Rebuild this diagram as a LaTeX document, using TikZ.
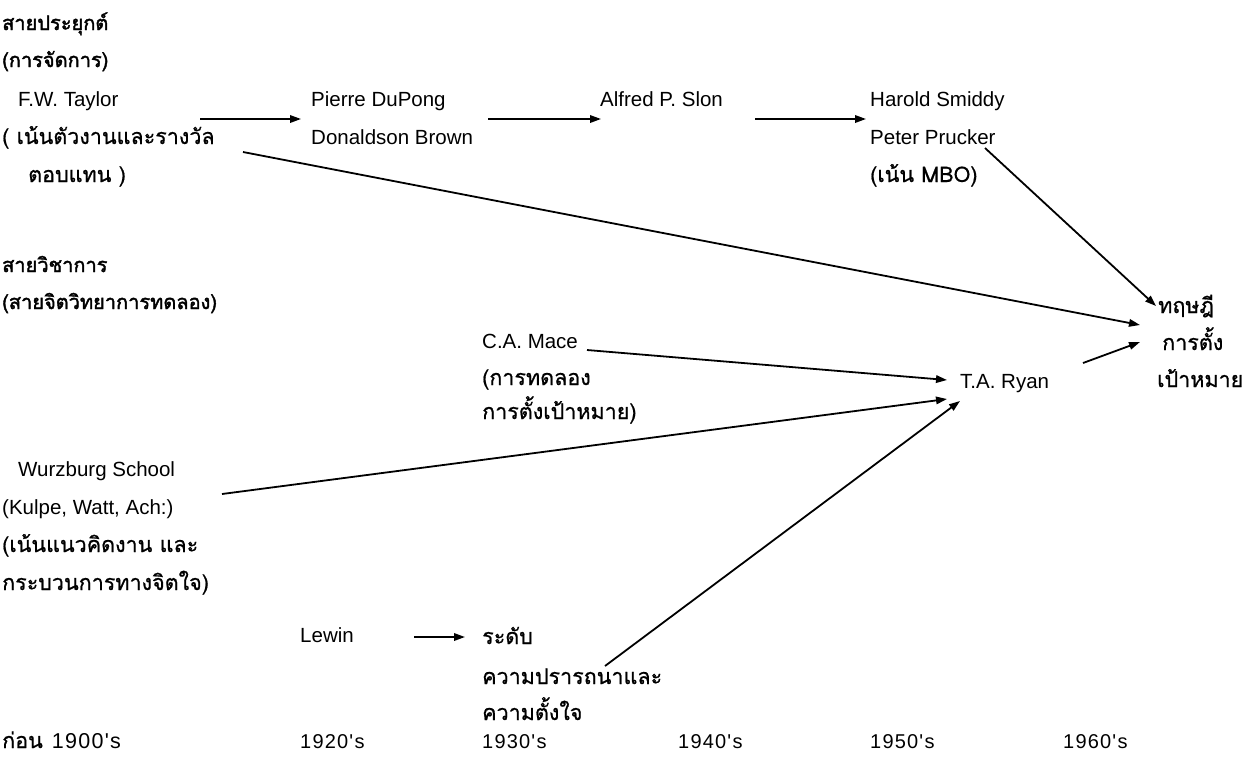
\documentclass[tikz,border=0pt]{standalone}
\usepackage{fontspec}
\setmainfont{Liberation Sans}
\newfontfamily\thai[Script=Thai,FakeBold=0.8]{Loma}
\newfontfamily\thaihead[Script=Thai,FakeBold=2]{Loma}
\newfontfamily\yearfont[LetterSpace=6]{Liberation Sans}
\usetikzlibrary{arrows.meta}
\begin{document}
\begin{tikzpicture}[x=1pt,y=-1pt,
  lbl/.style={anchor=base west,inner sep=0pt,font=\fontsize{20.5}{22}\selectfont},
  th/.style={anchor=base west,inner sep=0pt,font=\fontsize{21.5}{22}\selectfont\thai},
  thb/.style={anchor=base west,inner sep=0pt,font=\fontsize{20}{22}\selectfont\thaihead},
  yr/.style={anchor=base west,inner sep=0pt,font=\fontsize{20}{22}\selectfont\yearfont},
  arr/.style={-{Triangle[length=11pt,width=7.5pt]},line width=1.8pt}]
\useasboundingbox (0,0) rectangle (1252,756);

% applied management line
\node[thb] (appl)  at (2,30)  {สายประยุกต์};
\node[thb] (appl2) at (2,67)  {(การจัดการ)};
\node[lbl] (taylor)  at (18,106) {F.W. Taylor};
\node[th]  (taylor2) at (2,144)  {( เน้นตัวงานและรางวัล};
\node[th]  (taylor3) at (28,182) {ตอบแทน )};
\node[lbl] (pierre) at (311,106) {Pierre DuPong};
\node[lbl] (brown)  at (311,144) {Donaldson Brown};
\node[lbl] (sloan)  at (600,106) {Alfred P. Slon};
\node[lbl] (smiddy) at (870,106) {Harold Smiddy};
\node[lbl] (drucker) at (870,144) {Peter Prucker};
\node[th]  (mbo)    at (870,182) {(เน้น MBO)};

% academic line
\node[thb] (acad)  at (2,272) {สายวิชาการ};
\node[thb] (acad2) at (2,309) {(สายจิตวิทยาการทดลอง)};
\node[lbl] (mace)  at (482,348) {C.A. Mace};
\node[th]  (mace2) at (482,385) {(การทดลอง};
\node[th]  (mace3) at (482,419) {การตั้งเป้าหมาย)};
\node[lbl] (ryan)  at (960,388) {T.A. Ryan};
\node[lbl] (wurz)  at (18,476) {Wurzburg School};
\node[lbl] (wurz2) at (2,514)  {(Kulpe, Watt, Ach:)};
\node[th]  (wurz3) at (2,552)  {(เน้นแนวคิดงาน และ};
\node[th]  (wurz4) at (2,590)  {กระบวนการทางจิตใจ)};
\node[lbl] (lewin) at (300,642) {Lewin};
\node[th]  (level)  at (482,644) {ระดับ};
\node[th]  (level2) at (482,684) {ความปรารถนาและ};
\node[th]  (level3) at (482,720) {ความตั้งใจ};

% goal-setting theory
\node[th] (gst)  at (1158,313) {ทฤษฎี};
\node[th] (gst2) at (1162,350) {การตั้ง};
\node[th] (gst3) at (1157,387) {เป้าหมาย};

% time axis
\node[th] (d0) at (2,748)    {ก่อน\hspace{9pt}\yearfont 1900's};
\node[yr] (d1) at (300,748)  {1920's};
\node[yr] (d2) at (482,748)  {1930's};
\node[yr] (d3) at (678,748)  {1940's};
\node[yr] (d4) at (870,748)  {1950's};
\node[yr] (d5) at (1063,748) {1960's};

% connector end points
\coordinate (tayA) at (200,119);  \coordinate (pieA) at (301,119);
\coordinate (broA) at (488,119);  \coordinate (sloA) at (601,119);
\coordinate (sloB) at (755,119);  \coordinate (smiA) at (866,119);
\coordinate (tayB) at (243,152);  \coordinate (gstA) at (1140,325);
\coordinate (druB) at (985,148);  \coordinate (gstB) at (1156,306);
\coordinate (ryaB) at (1083,363); \coordinate (gstC) at (1140,342);
\coordinate (macB) at (587,350);  \coordinate (ryaA) at (947,380);
\coordinate (wurB) at (222,494);  \coordinate (ryaC) at (947,399);
\coordinate (levB) at (605,666);  \coordinate (ryaD) at (960,401);
\coordinate (lewB) at (414,637);  \coordinate (levA) at (465,637);

\draw[arr] (tayA) -- (pieA);
\draw[arr] (broA) -- (sloA);
\draw[arr] (sloB) -- (smiA);
\draw[arr] (tayB) -- (gstA);
\draw[arr] (druB) -- (gstB);
\draw[arr] (ryaB) -- (gstC);
\draw[arr] (macB) -- (ryaA);
\draw[arr] (wurB) -- (ryaC);
\draw[arr] (levB) -- (ryaD);
\draw[arr] (lewB) -- (levA);
\end{tikzpicture}
\end{document}
